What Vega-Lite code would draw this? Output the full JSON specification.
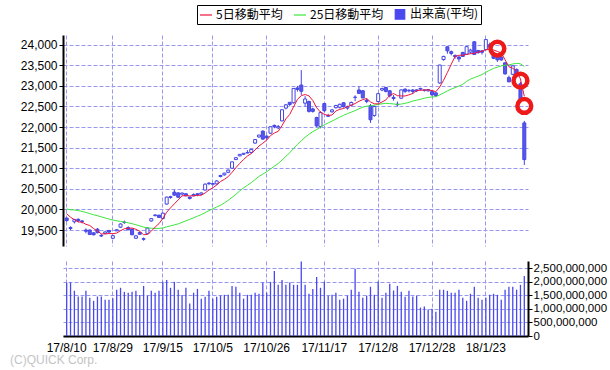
{
"$schema":"https://vega.github.io/schema/vega-lite/v6.json",
"autosize":{"type":"pad"},
"padding":{"left":10,"top":4,"right":5,"bottom":5},
"background":"white",
"spacing":15,
"bounds":"flush",
"title":{"text":"(C)QUICK Corp.","orient":"bottom","anchor":"start","frame":"group","dx":-53,"offset":2,"color":"#c4c4c4","font":"Liberation Sans","fontSize":12,"fontWeight":"normal"},
"config":{"view":{"stroke":null},
 "axis":{"gridColor":"#9898ee","gridDash":[4,2],"gridWidth":1,"labelFont":"Liberation Sans","labelColor":"black"},
 "axisLeft":{"grid":true,"tickSize":4,"tickColor":"black","domainColor":"black","domainWidth":2,"labelFontSize":12,"labelPadding":2},
 "axisRight":{"grid":true,"tickSize":4,"tickColor":"black","domainColor":"black","domainWidth":2,"labelFontSize":11.5,"labelPadding":1}},
"data":{"values":[
{"d":"17/8/10","o":19790,"h":19810,"l":19700,"c":19730,"v":1980000000,"m5":19894,"m25":20011},
{"d":"17/8/14","o":19560,"h":19590,"l":19500,"c":19537,"v":1980000000,"m5":19811,"m25":19993},
{"d":"17/8/15","o":19700,"h":19770,"l":19660,"c":19753,"v":1670000000,"m5":19751,"m25":19986},
{"d":"17/8/16","o":19760,"h":19780,"l":19690,"c":19729,"v":1460000000,"m5":19697,"m25":19972},
{"d":"17/8/17","o":19720,"h":19740,"l":19660,"c":19703,"v":1460000000,"m5":19690,"m25":19952},
{"d":"17/8/18","o":19500,"h":19540,"l":19420,"c":19470,"v":1670000000,"m5":19638,"m25":19927},
{"d":"17/8/21","o":19500,"h":19510,"l":19380,"c":19393,"v":1410000000,"m5":19610,"m25":19899},
{"d":"17/8/22","o":19430,"h":19450,"l":19370,"c":19384,"v":1300000000,"m5":19536,"m25":19870},
{"d":"17/8/23","o":19520,"h":19550,"l":19420,"c":19435,"v":1460000000,"m5":19477,"m25":19847},
{"d":"17/8/24","o":19370,"h":19400,"l":19330,"c":19354,"v":1460000000,"m5":19407,"m25":19820},
{"d":"17/8/25","o":19420,"h":19470,"l":19400,"c":19453,"v":1340000000,"m5":19404,"m25":19793},
{"d":"17/8/28","o":19490,"h":19500,"l":19430,"c":19450,"v":1340000000,"m5":19415,"m25":19767},
{"d":"17/8/29","o":19300,"h":19380,"l":19280,"c":19363,"v":1390000000,"m5":19411,"m25":19742},
{"d":"17/8/30","o":19480,"h":19520,"l":19470,"c":19507,"v":1710000000,"m5":19425,"m25":19724},
{"d":"17/8/31","o":19570,"h":19660,"l":19550,"c":19646,"v":1780000000,"m5":19484,"m25":19708},
{"d":"17/9/1","o":19680,"h":19730,"l":19650,"c":19691,"v":1630000000,"m5":19531,"m25":19693},
{"d":"17/9/4","o":19560,"h":19590,"l":19490,"c":19508,"v":1600000000,"m5":19543,"m25":19675},
{"d":"17/9/5","o":19520,"h":19540,"l":19370,"c":19386,"v":1630000000,"m5":19548,"m25":19653},
{"d":"17/9/6","o":19300,"h":19380,"l":19290,"c":19358,"v":1670000000,"m5":19518,"m25":19628},
{"d":"17/9/7","o":19440,"h":19460,"l":19380,"c":19397,"v":1510000000,"m5":19468,"m25":19601},
{"d":"17/9/8","o":19290,"h":19320,"l":19240,"c":19275,"v":1850000000,"m5":19385,"m25":19571},
{"d":"17/9/11","o":19410,"h":19560,"l":19400,"c":19546,"v":1490000000,"m5":19392,"m25":19554},
{"d":"17/9/12","o":19720,"h":19790,"l":19700,"c":19777,"v":1670000000,"m5":19471,"m25":19543},
{"d":"17/9/13","o":19850,"h":19880,"l":19830,"c":19866,"v":1600000000,"m5":19572,"m25":19538},
{"d":"17/9/14","o":19860,"h":19870,"l":19790,"c":19807,"v":1670000000,"m5":19654,"m25":19541},
{"d":"17/9/15","o":19780,"h":19920,"l":19760,"c":19910,"v":2000000000,"m5":19781,"m25":19548},
{"d":"17/9/19","o":20130,"h":20310,"l":20120,"c":20299,"v":2070000000,"m5":19932,"m25":19578},
{"d":"17/9/20","o":20290,"h":20330,"l":20260,"c":20310,"v":1780000000,"m5":20038,"m25":19601},
{"d":"17/9/21","o":20420,"h":20480,"l":20330,"c":20347,"v":2000000000,"m5":20135,"m25":19625},
{"d":"17/9/22","o":20400,"h":20420,"l":20280,"c":20296,"v":1710000000,"m5":20232,"m25":19649},
{"d":"17/9/25","o":20370,"h":20410,"l":20340,"c":20398,"v":1510000000,"m5":20330,"m25":19686},
{"d":"17/9/26","o":20380,"h":20390,"l":20320,"c":20330,"v":1780000000,"m5":20336,"m25":19724},
{"d":"17/9/27","o":20300,"h":20310,"l":20240,"c":20267,"v":1200000000,"m5":20328,"m25":19759},
{"d":"17/9/28","o":20330,"h":20390,"l":20320,"c":20363,"v":1600000000,"m5":20331,"m25":19796},
{"d":"17/9/29","o":20380,"h":20390,"l":20320,"c":20356,"v":1740000000,"m5":20343,"m25":19836},
{"d":"17/10/2","o":20370,"h":20410,"l":20350,"c":20401,"v":1380000000,"m5":20343,"m25":19874},
{"d":"17/10/3","o":20470,"h":20630,"l":20460,"c":20614,"v":1450000000,"m5":20400,"m25":19921},
{"d":"17/10/4","o":20640,"h":20660,"l":20590,"c":20627,"v":1670000000,"m5":20472,"m25":19971},
{"d":"17/10/5","o":20610,"h":20640,"l":20580,"c":20629,"v":1380000000,"m5":20525,"m25":20016},
{"d":"17/10/6","o":20620,"h":20710,"l":20600,"c":20691,"v":1450000000,"m5":20592,"m25":20058},
{"d":"17/10/10","o":20800,"h":20840,"l":20780,"c":20824,"v":1490000000,"m5":20677,"m25":20103},
{"d":"17/10/11","o":20840,"h":20890,"l":20820,"c":20881,"v":1520000000,"m5":20730,"m25":20158},
{"d":"17/10/12","o":20900,"h":20970,"l":20880,"c":20955,"v":1520000000,"m5":20796,"m25":20221},
{"d":"17/10/13","o":21000,"h":21160,"l":20990,"c":21155,"v":1850000000,"m5":20901,"m25":20293},
{"d":"17/10/16","o":21210,"h":21260,"l":21200,"c":21256,"v":1820000000,"m5":21014,"m25":20367},
{"d":"17/10/17","o":21300,"h":21340,"l":21290,"c":21336,"v":1600000000,"m5":21117,"m25":20450},
{"d":"17/10/18","o":21340,"h":21370,"l":21320,"c":21363,"v":1380000000,"m5":21213,"m25":20522},
{"d":"17/10/19","o":21380,"h":21440,"l":21360,"c":21373,"v":1520000000,"m5":21297,"m25":20586},
{"d":"17/10/20","o":21380,"h":21470,"l":21360,"c":21458,"v":1520000000,"m5":21357,"m25":20650},
{"d":"17/10/23","o":21610,"h":21700,"l":21600,"c":21697,"v":1600000000,"m5":21445,"m25":20725},
{"d":"17/10/24","o":21760,"h":21810,"l":21740,"c":21805,"v":1560000000,"m5":21539,"m25":20801},
{"d":"17/10/25","o":21900,"h":21920,"l":21690,"c":21708,"v":1980000000,"m5":21608,"m25":20858},
{"d":"17/10/26","o":21780,"h":21800,"l":21700,"c":21740,"v":1600000000,"m5":21682,"m25":20915},
{"d":"17/10/27","o":21850,"h":22010,"l":21840,"c":22008,"v":2000000000,"m5":21792,"m25":20981},
{"d":"17/10/30","o":22040,"h":22060,"l":21970,"c":22012,"v":2400000000,"m5":21855,"m25":21050},
{"d":"17/10/31","o":21980,"h":22050,"l":21950,"c":22012,"v":1890000000,"m5":21896,"m25":21114},
{"d":"17/11/1","o":22150,"h":22430,"l":22140,"c":22420,"v":2070000000,"m5":22038,"m25":21198},
{"d":"17/11/2","o":22460,"h":22560,"l":22430,"c":22539,"v":1890000000,"m5":22198,"m25":21289},
{"d":"17/11/6","o":22600,"h":22610,"l":22510,"c":22548,"v":1980000000,"m5":22306,"m25":21376},
{"d":"17/11/7","o":22590,"h":22940,"l":22570,"c":22938,"v":1890000000,"m5":22491,"m25":21480},
{"d":"17/11/8","o":22950,"h":23000,"l":22860,"c":22914,"v":1890000000,"m5":22672,"m25":21580},
{"d":"17/11/9","o":23020,"h":23382,"l":22780,"c":22869,"v":2750000000,"m5":22762,"m25":21670},
{"d":"17/11/10","o":22580,"h":22750,"l":22500,"c":22681,"v":1890000000,"m5":22790,"m25":21752},
{"d":"17/11/13","o":22620,"h":22640,"l":22350,"c":22381,"v":1560000000,"m5":22757,"m25":21823},
{"d":"17/11/14","o":22440,"h":22470,"l":22350,"c":22380,"v":1740000000,"m5":22645,"m25":21890},
{"d":"17/11/15","o":22230,"h":22250,"l":22000,"c":22028,"v":2180000000,"m5":22468,"m25":21938},
{"d":"17/11/16","o":22010,"h":22380,"l":21970,"c":22351,"v":1780000000,"m5":22364,"m25":21997},
{"d":"17/11/17","o":22570,"h":22580,"l":22350,"c":22397,"v":2000000000,"m5":22307,"m25":22055},
{"d":"17/11/20","o":22280,"h":22320,"l":22250,"c":22262,"v":1490000000,"m5":22284,"m25":22099},
{"d":"17/11/21","o":22370,"h":22440,"l":22350,"c":22416,"v":1520000000,"m5":22291,"m25":22145},
{"d":"17/11/22","o":22470,"h":22540,"l":22450,"c":22523,"v":1600000000,"m5":22390,"m25":22193},
{"d":"17/11/24","o":22480,"h":22570,"l":22450,"c":22551,"v":1340000000,"m5":22430,"m25":22240},
{"d":"17/11/27","o":22590,"h":22600,"l":22470,"c":22496,"v":1380000000,"m5":22450,"m25":22285},
{"d":"17/11/28","o":22460,"h":22520,"l":22420,"c":22486,"v":1490000000,"m5":22494,"m25":22326},
{"d":"17/11/29","o":22530,"h":22620,"l":22500,"c":22597,"v":1710000000,"m5":22531,"m25":22362},
{"d":"17/11/30","o":22720,"h":22770,"l":22630,"c":22725,"v":2480000000,"m5":22571,"m25":22399},
{"d":"17/12/1","o":22900,"h":22990,"l":22800,"c":22819,"v":1630000000,"m5":22625,"m25":22444},
{"d":"17/12/4","o":22880,"h":22900,"l":22700,"c":22707,"v":1410000000,"m5":22667,"m25":22482},
{"d":"17/12/5","o":22650,"h":22700,"l":22580,"c":22622,"v":1490000000,"m5":22694,"m25":22507},
{"d":"17/12/6","o":22520,"h":22560,"l":22100,"c":22177,"v":1820000000,"m5":22610,"m25":22514},
{"d":"17/12/7","o":22280,"h":22520,"l":22250,"c":22498,"v":1520000000,"m5":22565,"m25":22533},
{"d":"17/12/8","o":22620,"h":22830,"l":22600,"c":22811,"v":2010000000,"m5":22563,"m25":22549},
{"d":"17/12/11","o":22900,"h":22950,"l":22870,"c":22939,"v":1410000000,"m5":22609,"m25":22565},
{"d":"17/12/12","o":22960,"h":22970,"l":22840,"c":22866,"v":1600000000,"m5":22658,"m25":22577},
{"d":"17/12/13","o":22880,"h":22900,"l":22720,"c":22758,"v":1930000000,"m5":22774,"m25":22570},
{"d":"17/12/14","o":22720,"h":22780,"l":22640,"c":22694,"v":1680000000,"m5":22814,"m25":22561},
{"d":"17/12/15","o":22540,"h":22620,"l":22500,"c":22553,"v":1850000000,"m5":22762,"m25":22549},
{"d":"17/12/18","o":22700,"h":22910,"l":22690,"c":22902,"v":1630000000,"m5":22755,"m25":22558},
{"d":"17/12/19","o":22920,"h":22940,"l":22830,"c":22868,"v":1450000000,"m5":22755,"m25":22577},
{"d":"17/12/20","o":22880,"h":22920,"l":22840,"c":22892,"v":1670000000,"m5":22782,"m25":22598},
{"d":"17/12/21","o":22900,"h":22920,"l":22800,"c":22866,"v":1460000000,"m5":22816,"m25":22631},
{"d":"17/12/22","o":22880,"h":22920,"l":22850,"c":22903,"v":1490000000,"m5":22886,"m25":22653},
{"d":"17/12/25","o":22920,"h":22950,"l":22890,"c":22939,"v":1050000000,"m5":22894,"m25":22675},
{"d":"17/12/26","o":22900,"h":22910,"l":22860,"c":22893,"v":1090000000,"m5":22899,"m25":22700},
{"d":"17/12/27","o":22880,"h":22920,"l":22860,"c":22911,"v":980000000,"m5":22902,"m25":22720},
{"d":"17/12/28","o":22860,"h":22870,"l":22750,"c":22784,"v":1010000000,"m5":22886,"m25":22730},
{"d":"17/12/29","o":22830,"h":22840,"l":22730,"c":22765,"v":900000000,"m5":22858,"m25":22739},
{"d":"18/1/4","o":23070,"h":23510,"l":23050,"c":23506,"v":1710000000,"m5":22972,"m25":22779},
{"d":"18/1/5","o":23640,"h":23730,"l":23610,"c":23715,"v":1710000000,"m5":23136,"m25":22828},
{"d":"18/1/9","o":23950,"h":23950,"l":23780,"c":23850,"v":1670000000,"m5":23324,"m25":22879},
{"d":"18/1/10","o":23830,"h":23860,"l":23740,"c":23788,"v":1600000000,"m5":23525,"m25":22921},
{"d":"18/1/11","o":23740,"h":23760,"l":23660,"c":23710,"v":1600000000,"m5":23714,"m25":22957},
{"d":"18/1/12","o":23700,"h":23720,"l":23580,"c":23654,"v":1710000000,"m5":23743,"m25":22995},
{"d":"18/1/15","o":23810,"h":23830,"l":23700,"c":23715,"v":1410000000,"m5":23743,"m25":23038},
{"d":"18/1/16","o":23770,"h":23960,"l":23750,"c":23952,"v":1300000000,"m5":23764,"m25":23109},
{"d":"18/1/17","o":23820,"h":23900,"l":23780,"c":23868,"v":1560000000,"m5":23780,"m25":23164},
{"d":"18/1/18","o":24070,"h":24084,"l":23750,"c":23763,"v":1820000000,"m5":23790,"m25":23202},
{"d":"18/1/19","o":23860,"h":23870,"l":23780,"c":23808,"v":1410000000,"m5":23821,"m25":23237},
{"d":"18/1/22","o":23850,"h":23870,"l":23760,"c":23816,"v":1340000000,"m5":23841,"m25":23275},
{"d":"18/1/23","o":23880,"h":24130,"l":23870,"c":24124,"v":1410000000,"m5":23876,"m25":23330},
{"d":"18/1/24","o":24000,"h":24050,"l":23900,"c":23941,"v":1520000000,"m5":23890,"m25":23379},
{"d":"18/1/25","o":23800,"h":23830,"l":23650,"c":23669,"v":1560000000,"m5":23872,"m25":23424},
{"d":"18/1/26","o":23720,"h":23750,"l":23580,"c":23632,"v":1520000000,"m5":23836,"m25":23453,"ring":23905},
{"d":"18/1/29","o":23700,"h":23730,"l":23610,"c":23629,"v":1340000000,"m5":23799,"m25":23484},
{"d":"18/1/30","o":23560,"h":23570,"l":23270,"c":23292,"v":1710000000,"m5":23633,"m25":23500},
{"d":"18/1/31","o":23200,"h":23250,"l":23090,"c":23098,"v":1820000000,"m5":23464,"m25":23509},
{"d":"18/2/1","o":23280,"h":23500,"l":23260,"c":23486,"v":1820000000,"m5":23427,"m25":23532},
{"d":"18/2/2","o":23400,"h":23420,"l":23260,"c":23275,"v":1710000000,"m5":23356,"m25":23546},
{"d":"18/2/5","o":23050,"h":23100,"l":22680,"c":22682,"v":1890000000,"m5":23167,"m25":23537,"ring":23127},
{"d":"18/2/6","o":22100,"h":22150,"l":21078,"c":21210,"v":2220000000,"m5":22750,"m25":23469,"ring":22513}
]},
"resolve":{"scale":{"color":"shared","x":"shared"},"legend":{"color":"shared"}},
"vconcat":[
 {"width":465,"height":211,
  "encoding":{"x":{"field":"d","type":"ordinal","sort":null,"scale":{"paddingInner":0,"paddingOuter":0.46},
   "axis":{"values":["17/8/10","17/8/29","17/9/15","17/10/5","17/10/26","17/11/17","17/12/8","17/12/28","18/1/23"],"title":null,"bandPosition":0.5,"grid":true,"ticks":false,"domain":false,"labels":false}}},
  "layer":[
  {"mark":{"type":"rule","color":"#4444e4","strokeWidth":1},
   "encoding":{"y":{"field":"l","type":"quantitative","scale":{"domain":[19112,24235],"zero":false,"nice":false},
     "axis":{"values":[19500,20000,20500,21000,21500,22000,22500,23000,23500,24000],"format":",d","title":null}},
    "y2":{"field":"h"}}},
  {"mark":{"type":"bar","size":3,"stroke":"#4444e4","strokeWidth":1},
   "encoding":{"y":{"field":"o","type":"quantitative","axis":{"values":[19500,20000,20500,21000,21500,22000,22500,23000,23500,24000],"format":",d","title":null}},"y2":{"field":"c"},
    "fill":{"condition":{"test":"datum.c >= datum.o","value":"white"},"value":"#5858ea"}}},
  {"mark":{"type":"line","strokeWidth":1},
   "encoding":{"y":{"field":"m25","type":"quantitative","axis":{"values":[19500,20000,20500,21000,21500,22000,22500,23000,23500,24000],"format":",d","title":null}},
    "color":{"datum":"25日移動平均","scale":{"domain":["5日移動平均","25日移動平均","出来高(平均)"],"range":["#f0143c","#3ce63c","#4848ee"]},
     "legend":{"title":null,"orient":"none","legendX":134,"legendY":-30,"direction":"horizontal","strokeColor":"black","fillColor":"white","padding":2,"labelFont":"Noto Sans CJK JP","labelFontSize":12,"labelColor":"black","labelOffset":3,"columnPadding":8,"symbolSize":144,"labelLimit":200,
      "encode":{"symbols":{"update":{
       "shape":{"signal":"datum.value === '出来高(平均)' ? 'square' : 'stroke'"},
       "size":{"signal":"datum.value === '出来高(平均)' ? 90 : 144"},
       "fill":{"signal":"datum.value === '出来高(平均)' ? '#5858ea' : 'transparent'"},
       "stroke":{"signal":"datum.value === '5日移動平均' ? '#f0143c' : (datum.value === '25日移動平均' ? '#3ce63c' : '#5858ea')"},
       "strokeWidth":{"value":1.2},
       "opacity":{"value":1}}}}}}}},
  {"mark":{"type":"line","strokeWidth":1},
   "encoding":{"y":{"field":"m5","type":"quantitative","axis":{"values":[19500,20000,20500,21000,21500,22000,22500,23000,23500,24000],"format":",d","title":null}},
    "color":{"datum":"5日移動平均"}}},
  {"transform":[{"filter":"datum.ring != null"}],
   "mark":{"type":"point","shape":"circle","filled":false,"stroke":"#ee1a1a","strokeWidth":4.5,"size":190,"opacity":1},
   "encoding":{"y":{"field":"ring","type":"quantitative","axis":{"values":[19500,20000,20500,21000,21500,22000,22500,23000,23500,24000],"format":",d","title":null}}}}
  ]},
 {"width":465,"height":75,
  "mark":{"type":"bar","size":1.3},
  "encoding":{
   "x":{"field":"d","type":"ordinal","sort":null,"scale":{"paddingInner":0,"paddingOuter":0.46},
    "axis":{"values":["17/8/10","17/8/29","17/9/15","17/10/5","17/10/26","17/11/17","17/12/8","17/12/28","18/1/23"],"title":null,"bandPosition":0.5,"grid":true,"ticks":false,"domain":true,"domainColor":"black","domainWidth":2,"labelAngle":0,"labelFontSize":12,"labelPadding":6,"labelOverlap":false}},
   "y":{"field":"v","type":"quantitative","scale":{"domain":[0,2770000000],"nice":false,"zero":true},
    "axis":{"orient":"right","values":[0,500000000,1000000000,1500000000,2000000000,2500000000],"format":",d","title":null}},
   "color":{"datum":"出来高(平均)"}}}
]
}
